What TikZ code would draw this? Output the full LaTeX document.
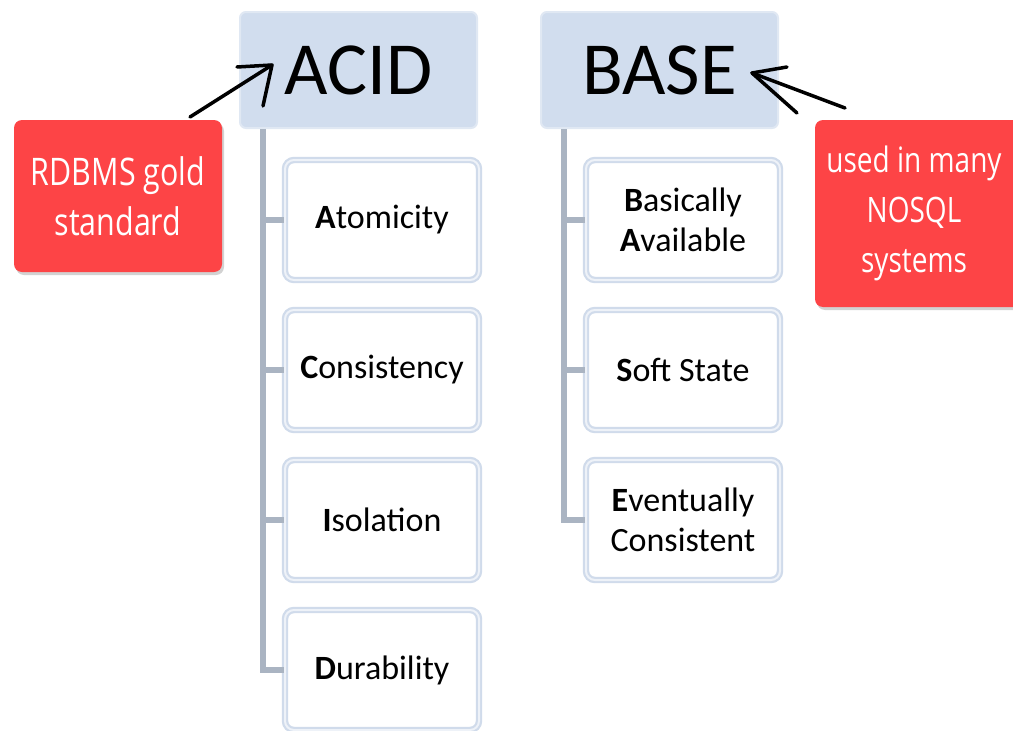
\documentclass[tikz,border=0pt]{standalone}
\usepackage{fontspec}
\setmainfont{Carlito}
\newfontfamily\handfont[FakeStretch=0.8]{Open Sans}
\usetikzlibrary{shadows}
\definecolor{hdrfill}{RGB}{209,221,238}
\definecolor{hdrline}{RGB}{224,232,243}
\definecolor{boxline}{RGB}{208,219,235}
\definecolor{boxmid}{RGB}{238,242,248}
\definecolor{connline}{RGB}{170,180,194}
\definecolor{callred}{RGB}{253,68,70}
\tikzset{
  hdr/.style={draw=hdrline, line width=2pt, fill=hdrfill, rounded corners=6pt,
    minimum width=237pt, minimum height=116pt, inner sep=0pt,
    font=\fontsize{75}{80}\selectfont},
  item/.style={draw=boxline, line width=2.2pt, double=boxmid, double distance=2pt,
    fill=white, rounded corners=9pt, minimum width=194pt, minimum height=120pt,
    inner sep=0pt, align=center, font=\fontsize{34}{40}\selectfont},
  conn/.style={draw=connline, line width=6pt},
  callout/.style={fill=callred, rounded corners=8pt, text=white, align=center,
    inner sep=0pt, drop shadow={shadow xshift=2pt, shadow yshift=-3pt, opacity=0.35},
    font=\handfont\fontsize{38}{50}\selectfont},
  hand/.style={draw=black, line width=3.5pt, line cap=round, line join=round}
}
\begin{document}
\begin{tikzpicture}[x=1pt,y=-1pt]
\useasboundingbox (0,0) rectangle (1013,731);
\clip (0,0) rectangle (1013,731);
\fill[white] (0,0) rectangle (1013,731);
\coordinate (aT) at (263,128);
\coordinate (bT) at (564,128);
% headers
\node[hdr] (acid) at (358.5,70) {ACID};
\node[hdr] (base) at (659.5,70) {BASE};
% ACID items
\node[item] (a1) at (382,220) {{\bfseries A}tomicity};
\node[item] (a2) at (382,370) {{\bfseries C}onsistency};
\node[item] (a3) at (382,520) {{\bfseries I}solation};
\node[item] (a4) at (382,670) {{\bfseries D}urability};
% BASE items
\node[item] (b1) at (683,220) {{\bfseries B}asically\\{\bfseries A}vailable};
\node[item] (b2) at (683,370) {{\bfseries S}oft State};
\node[item] (b3) at (683,520) {{\bfseries E}ventually\\Consistent};
% connector lines
\coordinate (aC) at (263,670);
\coordinate (bC) at (564,520);
\draw[conn] (acid.south -| aT) -- (aC) -- (a4.west);
\draw[conn] (a1.west -| aT) -- (a1.west);
\draw[conn] (a2.west -| aT) -- (a2.west);
\draw[conn] (a3.west -| aT) -- (a3.west);
\draw[conn] (base.south -| bT) -- (bC) -- (b3.west);
\draw[conn] (b1.west -| bT) -- (b1.west);
\draw[conn] (b2.west -| bT) -- (b2.west);
% callouts
\node[callout, minimum width=208pt, minimum height=152pt] (c1) at (118,196) {RDBMS gold\\standard};
\node[callout, minimum width=206pt, minimum height=187pt] (c2) at (918,213.5) {};
\node[text=white, align=center, inner sep=0pt, font=\handfont\fontsize{35}{50}\selectfont]
  (c2t) at (914,213.5) {used in many\\NOSQL\\systems};
% hand arrows
\coordinate (l0) at (190,117);
\coordinate (l1) at (272,65);
\coordinate (l2) at (237,67);
\coordinate (l3) at (263,106);
\draw[hand] (l0) -- (l1);
\draw[hand] (l2) -- (l1) -- (l3);
\coordinate (r0) at (845,108);
\coordinate (r1) at (752,73);
\coordinate (r2) at (787,67);
\coordinate (r3) at (797,113);
\draw[hand] (r0) -- (r1);
\draw[hand] (r2) -- (r1) -- (r3);
\end{tikzpicture}
\end{document}
